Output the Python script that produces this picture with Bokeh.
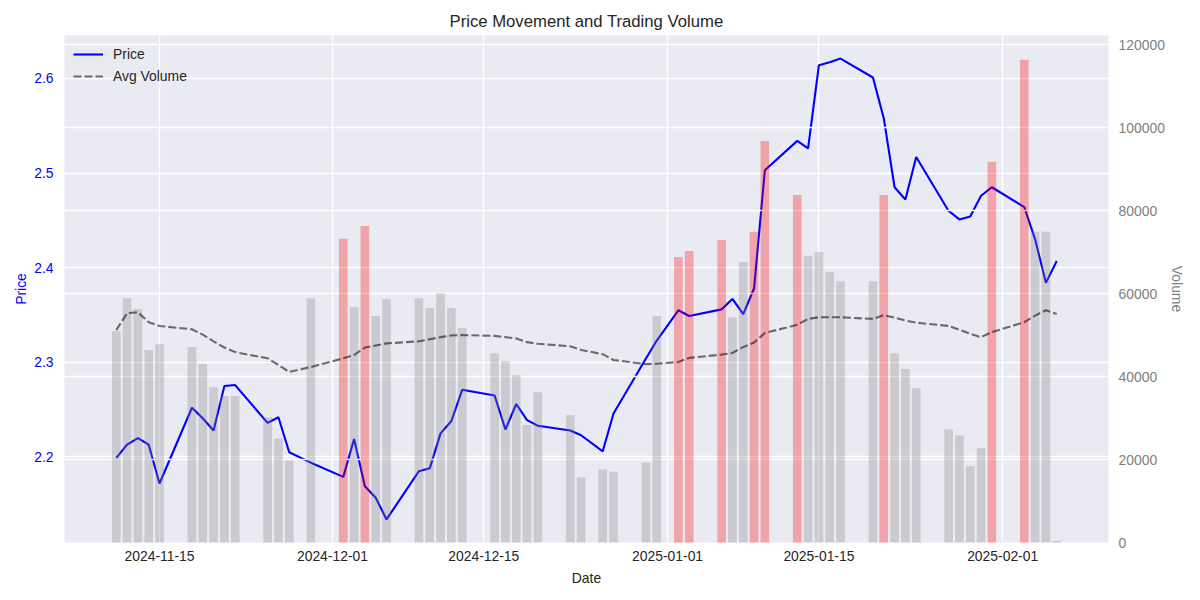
import pandas as pd
from bokeh.plotting import figure
from bokeh.models import (Range1d, LinearAxis, Grid, FixedTicker, DatetimeTickFormatter,
                          NumeralTickFormatter, Legend, LegendItem, ColumnDataSource)
from bokeh.embed import file_html
from bokeh.resources import INLINE

# ---------------- data ----------------
dates = [
    "2024-11-11", "2024-11-12", "2024-11-13", "2024-11-14", "2024-11-15",
    "2024-11-18", "2024-11-19", "2024-11-20", "2024-11-21", "2024-11-22",
    "2024-11-25", "2024-11-26", "2024-11-27", "2024-11-29",
    "2024-12-02", "2024-12-03", "2024-12-04", "2024-12-05", "2024-12-06",
    "2024-12-09", "2024-12-10", "2024-12-11", "2024-12-12", "2024-12-13",
    "2024-12-16", "2024-12-17", "2024-12-18", "2024-12-19", "2024-12-20",
    "2024-12-23", "2024-12-24", "2024-12-26", "2024-12-27",
    "2024-12-30", "2024-12-31",
    "2025-01-02", "2025-01-03",
    "2025-01-06", "2025-01-07", "2025-01-08", "2025-01-09", "2025-01-10",
    "2025-01-13", "2025-01-14", "2025-01-15", "2025-01-16", "2025-01-17",
    "2025-01-20", "2025-01-21", "2025-01-22", "2025-01-23", "2025-01-24",
    "2025-01-27", "2025-01-28", "2025-01-29", "2025-01-30", "2025-01-31",
    "2025-02-03", "2025-02-04", "2025-02-05", "2025-02-06",
]

price = [
    2.199, 2.213, 2.220, 2.213, 2.172,
    2.252, 2.241, 2.228, 2.275, 2.276,
    2.236, 2.242, 2.205, 2.194,
    2.179, 2.219, 2.169, 2.157, 2.134,
    2.185, 2.188, 2.225, 2.238, 2.271,
    2.265, 2.229, 2.256, 2.239, 2.233,
    2.228, 2.223, 2.206, 2.246,
    2.304, 2.323,
    2.355, 2.349,
    2.356, 2.367, 2.351, 2.378, 2.503,
    2.534, 2.526, 2.614, 2.617, 2.621,
    2.601, 2.558, 2.485, 2.472, 2.517,
    2.460, 2.451, 2.454, 2.476, 2.485,
    2.464, 2.430, 2.384, 2.407,
]

volume = [
    51000, 58900, 56300, 46400, 47800,
    47100, 43000, 37400, 35300, 35300,
    30200, 25100, 19800, 58900,
    73200, 56800, 76300, 54600, 58700,
    58900, 56500, 60100, 56500, 51700,
    45600, 43700, 40300, 28300, 36200,
    30700, 15700, 17600, 17100,
    19300, 54600,
    68800, 70300,
    72900, 54300, 67600, 74900, 96800,
    83800, 69100, 70000, 65200, 63000,
    63000, 83800, 45600, 41800, 37200,
    27300, 25800, 18400, 22700, 91800,
    116400, 74900, 74900, 400,
]

avg_volume = [
    51200, 55300, 55500, 53100, 52200,
    51400, 50100, 48500, 47000, 45900,
    44400, 42800, 41100, 42300,
    44400, 45200, 47000, 47500, 48000,
    48500, 49000, 49500, 49900, 50000,
    49800, 49500, 49200, 48300, 47900,
    47300, 46400, 45400, 44000,
    43000, 43100,
    43500, 44500,
    45300, 45700, 47100, 48200, 50500,
    52500, 53900, 54300, 54300, 54300,
    53900, 54800, 54200, 53500, 53000,
    52200, 51300, 50300, 49500, 50700,
    53100, 54700, 56000, 55100,
]

high_volume = [
    False, False, False, False, False,
    False, False, False, False, False,
    False, False, False, False,
    True, False, True, False, False,
    False, False, False, False, False,
    False, False, False, False, False,
    False, False, False, False,
    False, False,
    True, True,
    True, False, False, True, True,
    True, False, False, False, False,
    False, True, False, False, False,
    False, False, False, False, True,
    True, False, False, False,
]

date_ticks = ["2024-11-15", "2024-12-01", "2024-12-15", "2025-01-01", "2025-01-15", "2025-02-01"]
price_ticks = [2.2, 2.3, 2.4, 2.5, 2.6]
volume_ticks = [0, 20000, 40000, 60000, 80000, 100000, 120000]

# ---------------- build ----------------
x = pd.to_datetime(dates)
DAY_MS = 86400000
bar_w_days = 0.8
span_days = (x[-1] - x[0]).days
pad_days = bar_w_days / 2 + 0.05 * (span_days + bar_w_days)
x_start = x[0] - pd.Timedelta(days=pad_days)
x_end = x[-1] + pd.Timedelta(days=pad_days)

pmin, pmax = min(price), max(price)
pm = 0.05 * (pmax - pmin)
vmax = max(volume) * 1.05

src = ColumnDataSource(dict(
    x=x, price=price, volume=volume, avg=avg_volume,
    color=["red" if h else "gray" for h in high_volume],
))

FONT = "Liberation Sans"
TXT = "#262626"
BG = "#EAEAF2"

p = figure(
    x_axis_type="datetime",
    width=1192, height=588,
    min_border_left=64, min_border_right=84, min_border_top=35, min_border_bottom=46,
    x_range=Range1d(x_start, x_end),
    y_range=Range1d(pmin - pm, pmax + pm),
    output_backend="svg", toolbar_location=None,
    title="Price Movement and Trading Volume",
)
p.extra_y_ranges = {"vol": Range1d(0, vmax)}

p.background_fill_color = BG
p.border_fill_color = "white"
p.outline_line_color = None

p.title.align = "center"
p.title.text_font = FONT
p.title.text_font_size = "16.7px"
p.title.text_font_style = "normal"
p.title.text_color = TXT

tick_ms = [pd.Timestamp(d).value // 10**6 for d in date_ticks]
date_ticker = FixedTicker(ticks=tick_ms)
price_ticker = FixedTicker(ticks=price_ticks)
vol_ticker = FixedTicker(ticks=volume_ticks)

fmt = "%Y-%m-%d"
p.xaxis.ticker = date_ticker
p.xaxis.formatter = DatetimeTickFormatter(
    milliseconds=fmt, seconds=fmt, minsec=fmt, minutes=fmt, hourmin=fmt,
    hours=fmt, days=fmt, months=fmt, years=fmt)
p.xaxis.axis_label = "Date"
p.yaxis.ticker = price_ticker
p.yaxis.formatter = NumeralTickFormatter(format="0.0")
p.yaxis.axis_label = "Price"

vax = LinearAxis(y_range_name="vol", ticker=vol_ticker,
                 formatter=NumeralTickFormatter(format="0"), axis_label="Volume")
p.add_layout(vax, "right")

for ax, col in ((p.xaxis[0], TXT), (p.yaxis[0], "blue"), (vax, "gray")):
    ax.axis_line_color = None
    ax.major_tick_line_color = None
    ax.minor_tick_line_color = None
    ax.major_tick_in = 0
    ax.major_tick_out = 0
    ax.major_label_text_font = FONT
    ax.major_label_text_font_size = "13.9px"
    ax.major_label_text_color = col
    ax.axis_label_text_font = FONT
    ax.axis_label_text_font_size = "13.9px"
    ax.axis_label_text_font_style = "normal"
    ax.axis_label_text_color = col
p.xaxis.major_label_standoff = 8
p.xaxis.axis_label_standoff = 6
p.yaxis.major_label_standoff = 11
p.yaxis.axis_label_standoff = 2
vax.major_label_standoff = 10
vax.axis_label_standoff = 1

p.xgrid.ticker = date_ticker
p.ygrid.ticker = price_ticker
for g in (p.xgrid[0], p.ygrid[0]):
    g.grid_line_color = "white"
    g.grid_line_width = 1.4

vgrid = Grid(dimension=1, y_range_name="vol", ticker=vol_ticker,
             grid_line_color="white", grid_line_width=1.4, level="guide")
p.add_layout(vgrid)

price_r = p.line("x", "price", source=src, line_color="blue", line_width=2.1)
p.vbar(x="x", top="volume", bottom=0, width=bar_w_days * DAY_MS, source=src,
       y_range_name="vol", fill_color="color", fill_alpha=0.3, line_color=None,
       level="annotation")
avg_r = p.line("x", "avg", source=src, y_range_name="vol", line_color="black",
               line_alpha=0.55, line_width=2.1, line_dash="8 3", level="annotation")

legend = Legend(items=[LegendItem(label="Price", renderers=[price_r]),
                       LegendItem(label="Avg Volume", renderers=[avg_r])],
                location="top_left", margin=0, padding=9, spacing=2,
                glyph_width=30, glyph_height=20, label_height=20, label_standoff=10,
                label_text_font=FONT, label_text_font_size="13.9px", label_text_color=TXT,
                background_fill_alpha=0, border_line_alpha=0)
legend.level = "overlay"
p.add_layout(legend)

open("out.html", "w").write(file_html(p, INLINE))
